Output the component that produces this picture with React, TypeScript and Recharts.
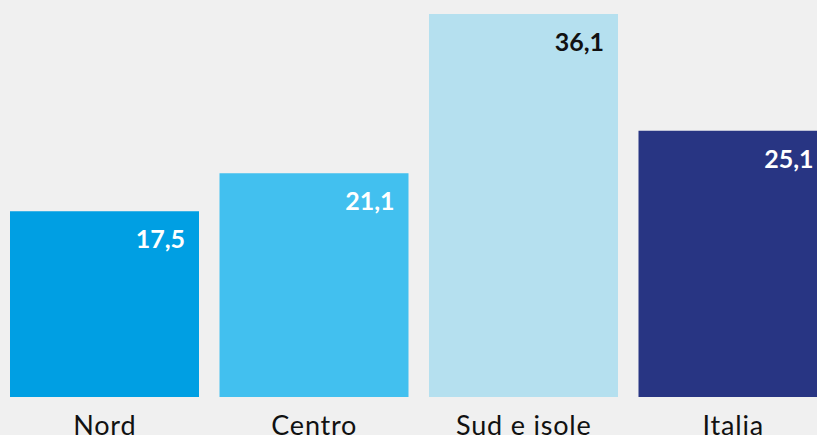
import { BarChart, Bar, XAxis, YAxis, Cell, LabelList } from "recharts";

const areas = ["Nord", "Centro", "Sud e isole", "Italia"];
const shares = [17.5, 21.1, 36.1, 25.1];
const barColors = ["#009fe3", "#42c0ef", "#b5e0ef", "#283583"];
const labelColors = ["#ffffff", "#ffffff", "#111111", "#ffffff"];

const data = areas.map((name, i) => ({ name, value: shares[i] }));

const fmt = (v: number) => v.toFixed(1).replace(".", ",");

function ValueLabel(props: any) {
  const { x, y, width, value, index } = props;
  return (
    <text
      x={x + width - 14}
      y={y + 37}
      textAnchor="end"
      fill={labelColors[index]}
      fontSize={25}
      fontWeight={700}
      fontFamily="Lato, sans-serif"
    >
      {fmt(value)}
    </text>
  );
}

function AreaTick(props: any) {
  const { x, y, payload } = props;
  return (
    <text
      x={x}
      y={y + 30}
      textAnchor="middle"
      fill="#111111"
      fontSize={27}
      letterSpacing={0.8}
      fontFamily="Lato, sans-serif"
    >
      {payload.value}
    </text>
  );
}

export default function App() {
  return (
    <div
      style={{
        position: "fixed",
        left: 0,
        top: 0,
        width: 817,
        height: 435,
        overflow: "hidden",
        background: "#f0f0f0",
      }}
    >
      <BarChart
        width={838}
        height={435}
        data={data}
        margin={{ top: 14, right: 0, bottom: 0, left: 0 }}
        barSize={189}
      >
        <XAxis
          dataKey="name"
          axisLine={false}
          tickLine={false}
          height={38}
          tick={<AreaTick />}
          interval={0}
        />
        <YAxis hide domain={[0, 36.1]} />
        <Bar dataKey="value" isAnimationActive={false}>
          {data.map((d, i) => (
            <Cell key={d.name} fill={barColors[i]} />
          ))}
          <LabelList dataKey="value" content={<ValueLabel />} />
        </Bar>
      </BarChart>
    </div>
  );
}
